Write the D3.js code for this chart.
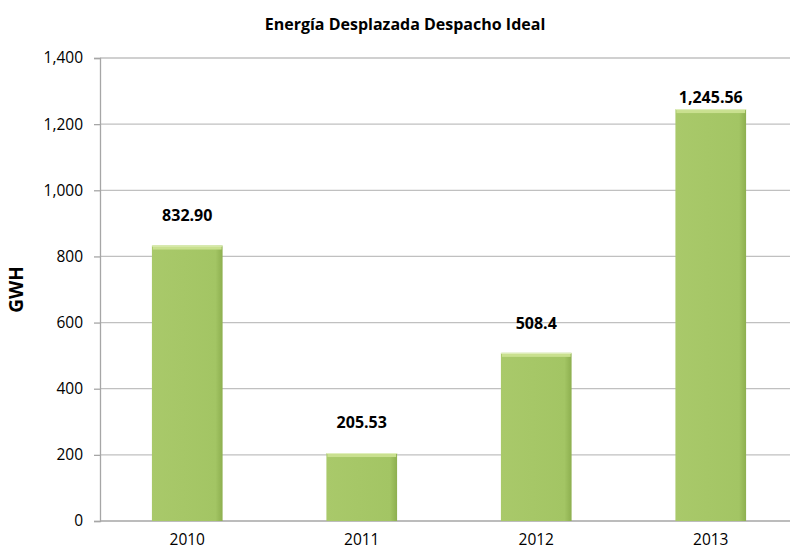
<!DOCTYPE html>
<meta charset="utf-8">
<title>Energía Desplazada Despacho Ideal</title>
<style>
    body { margin: 0; background: #fff; }
    text { font-family: "Open Sans", Lato, sans-serif; fill: #000; }
    .tick text { font-size: 15.5px; }
    .label { font-size: 16px; font-weight: bold; text-anchor: middle; }
</style>

<body>
    <script src="https://d3js.org/d3.v7.min.js" charset="utf-8"></script>
    <script>
        // data
        var years = ["2010", "2011", "2012", "2013"];
        var energy = [832.90, 205.53, 508.4, 1245.56];
        var energyText = ["832.90", "205.53", "508.4", "1,245.56"];
        var yTicks = [0, 200, 400, 600, 800, 1000, 1200, 1400];

        var width = 790,
            height = 552;

        var plotLeft = 100, plotRight = 798, plotTop = 58, plotBottom = 521;

        var svg = d3.select("body").append("svg")
            .attr("width", width)
            .attr("height", height);

        var defs = svg.append("defs");
        var grad = defs.append("linearGradient")
            .attr("id", "barGrad")
            .attr("x1", 0).attr("x2", 1).attr("y1", 0).attr("y2", 0);
        grad.append("stop").attr("offset", "0%").attr("stop-color", "#a9c96a");
        grad.append("stop").attr("offset", "90%").attr("stop-color", "#a3c564");
        grad.append("stop").attr("offset", "100%").attr("stop-color", "#8daf4f");

        var x = d3.scaleBand()
            .domain(years)
            .range([plotLeft, plotRight])
            .paddingInner(0.595)
            .paddingOuter(0.2975);

        var y = d3.scaleLinear()
            .domain([0, 1400])
            .range([plotBottom, plotTop]);

        // gridlines
        svg.append("g")
            .selectAll("line")
            .data(yTicks.slice(1))
            .enter().append("line")
            .attr("x1", plotLeft).attr("x2", width)
            .attr("y1", function (d) { return y(d); })
            .attr("y2", function (d) { return y(d); })
            .style("stroke", "#c0c0c0")
            .style("stroke-width", 1.3);

        // y axis
        var yAxis = svg.append("g")
            .attr("transform", "translate(" + plotLeft + ",0)")
            .call(d3.axisLeft(y).tickValues(yTicks).tickSize(6).tickPadding(11)
                .tickFormat(d3.format(",")));
        yAxis.selectAll("line, path").style("stroke", "#a6a6a6").style("stroke-width", 1.3);

        // x axis
        var xAxis = svg.append("g")
            .attr("transform", "translate(0," + plotBottom + ")")
            .call(d3.axisBottom(x).tickSize(0).tickPadding(13));
        xAxis.select("path").attr("d", "M" + plotLeft + ",0H" + width)
            .style("stroke", "#a6a6a6").style("stroke-width", 1.3);

        // bars
        var bars = svg.append("g")
            .selectAll("g")
            .data(years)
            .enter().append("g");

        bars.append("rect")
            .attr("x", function (d) { return x(d); })
            .attr("y", function (d, i) { return y(energy[i]); })
            .attr("width", x.bandwidth())
            .attr("height", function (d, i) { return plotBottom - y(energy[i]); })
            .style("fill", "url(#barGrad)");

        // light top bevel
        bars.append("rect")
            .attr("x", function (d) { return x(d) + 1; })
            .attr("y", function (d, i) { return y(energy[i]); })
            .attr("width", x.bandwidth() - 2)
            .attr("height", 4)
            .style("fill", "#c9e08f");

        bars.append("line")
            .attr("x1", function (d) { return x(d); })
            .attr("x2", function (d) { return x(d) + x.bandwidth(); })
            .attr("y1", function (d, i) { return y(energy[i]) + 0.5; })
            .attr("y2", function (d, i) { return y(energy[i]) + 0.5; })
            .style("stroke", "#e1efbd");

        // value labels (gap above bar as in the original)
        var labelGap = [25, 25, 24, 6];
        bars.append("text")
            .attr("class", "label")
            .attr("x", function (d) { return x(d) + x.bandwidth() / 2; })
            .attr("y", function (d, i) { return y(energy[i]) - labelGap[i]; })
            .text(function (d, i) { return energyText[i]; });

        svg.append("text")
            .attr("x", 405)
            .attr("y", 30)
            .attr("text-anchor", "middle")
            .style("font-size", "16px")
            .style("font-weight", "bold")
            .text("Energía Desplazada Despacho Ideal");

        svg.append("text")
            .attr("transform", "translate(23," + ((plotTop + plotBottom) / 2) + ") rotate(-90)")
            .attr("text-anchor", "middle")
            .style("font-size", "19px")
            .style("font-weight", "bold")
            .text("GWH");
    </script>
